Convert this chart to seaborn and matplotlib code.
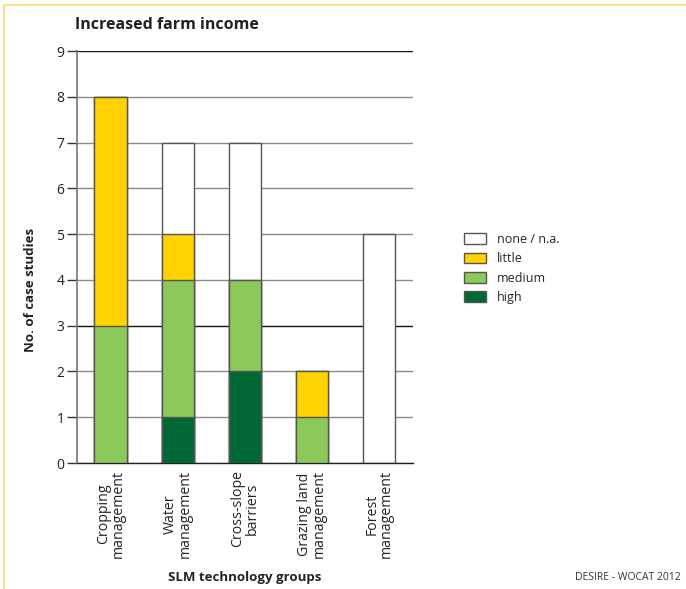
import matplotlib
matplotlib.use("Agg")
import matplotlib.pyplot as plt
import seaborn as sns
import pandas as pd
import numpy as np
from matplotlib.patches import Rectangle, Patch

categories = ["Cropping\nmanagement", "Water\nmanagement", "Cross-slope\nbarriers",
              "Grazing land\nmanagement", "Forest\nmanagement"]
high = [0, 1, 2, 0, 0]
medium = [3, 3, 2, 1, 0]
little = [5, 1, 0, 1, 0]
none_na = [0, 2, 3, 0, 5]
yticks = [0, 1, 2, 3, 4, 5, 6, 7, 8, 9]

series_names = ["none / n.a.", "little", "medium", "high"]
colors = {"none / n.a.": "#FFFFFF", "little": "#FFD200",
          "medium": "#8CC85A", "high": "#006837"}

sns.set_style("white")
plt.rcParams["font.family"] = ["Open Sans", "DejaVu Sans"]

df = pd.DataFrame({"cat": categories, "high": high, "medium": medium,
                   "little": little, "none / n.a.": none_na})
df["c_high"] = df["high"]
df["c_medium"] = df["c_high"] + df["medium"]
df["c_little"] = df["c_medium"] + df["little"]
df["c_none"] = df["c_little"] + df["none / n.a."]

fig = plt.figure(figsize=(6.86, 5.89), dpi=100)
ax = fig.add_axes([0.1122, 0.2139, 0.4898, 0.6995])

layers = [("c_none", "none / n.a."), ("c_little", "little"),
          ("c_medium", "medium"), ("c_high", "high")]
for i, (col, name) in enumerate(layers):
    sub = df[df[col] > 0]
    sns.barplot(data=sub, x="cat", y=col, order=categories, color=colors[name],
                width=0.48, edgecolor="#555555", linewidth=1.0, saturation=1,
                ax=ax, zorder=2 + i)

for t in yticks:
    c = "#111111" if t in (3, 9) else "#8a8a8a"
    ax.axhline(t, color=c, lw=1.0, zorder=0.5)

ax.set_ylim(0, 9)
ax.set_xlim(-0.5, 4.5)
ax.set_yticks(yticks)
ax.set_xticks(range(len(categories)))
ax.set_xticklabels(categories, rotation=90, fontsize=10.2, linespacing=0.95, va="top")
ax.set_xticks(np.arange(-0.5, 5, 1), minor=True)
ax.tick_params(axis="x", which="major", length=0, pad=5, colors="#222222")
ax.tick_params(axis="x", which="minor", length=5, width=1, color="#333333", direction="out")
ax.tick_params(axis="y", length=7, width=1, color="#333333", direction="out",
               labelsize=10, pad=2, left=True, labelcolor="#222222")
for s in ["top", "right"]:
    ax.spines[s].set_visible(False)
ax.spines["left"].set_color("#777777")
ax.spines["left"].set_linewidth(1.2)
ax.spines["bottom"].set_color("#222222")
ax.spines["bottom"].set_linewidth(1.0)
ax.set_xlabel("")
ax.set_ylabel("")

fig.text(75 / 686, 1 - 25 / 589, "Increased farm income", fontsize=11.5,
         fontweight="bold", ha="left", va="center", color="#222222")
fig.text(30 / 686, 1 - 290 / 589, "No. of case studies", fontsize=9.5,
         fontweight="bold", rotation=90, ha="center", va="center", color="#222222")
fig.text(245 / 686, 1 - 577 / 589, "SLM technology groups", fontsize=9.5,
         fontweight="bold", ha="center", va="center", color="#222222")
fig.text(628 / 686, 1 - 577 / 589, "DESIRE - WOCAT 2012", fontsize=7.5,
         ha="center", va="center", color="#333333")

handles = [Patch(facecolor=colors[n], edgecolor="#555555", linewidth=1.0, label=n)
           for n in series_names]
fig.legend(handles=handles, loc="upper left", bbox_to_anchor=(459 / 686, 1 - 228 / 589),
           frameon=False, fontsize=9, handlelength=1.75, handleheight=0.95,
           labelspacing=0.5, handletextpad=0.85, borderaxespad=0)

fig.patches.append(Rectangle((4 / 686, -0.1), 1.2, 1 - 5 / 589 + 0.1,
                             transform=fig.transFigure, fill=False,
                             edgecolor="#FFE08A", linewidth=1.5, zorder=-1))

fig.savefig("out.png", dpi=100)
